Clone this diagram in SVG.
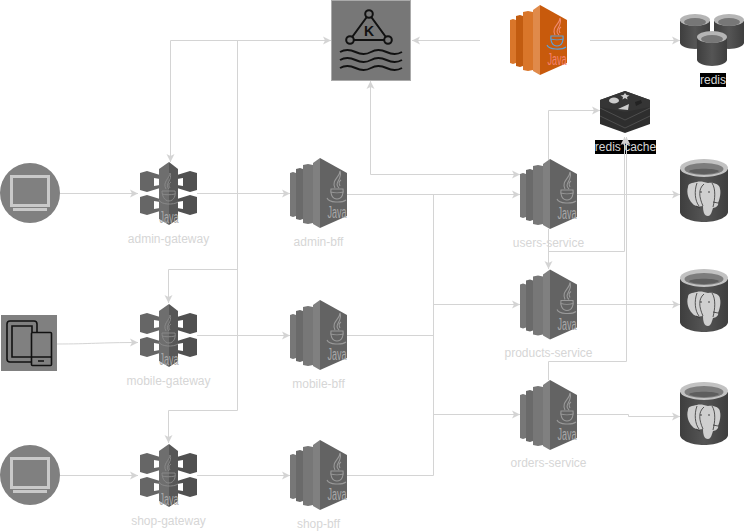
<svg xmlns="http://www.w3.org/2000/svg" width="745" height="532" viewBox="0 0 745 532">
<style>
.c{fill:none;stroke:#d4d4d4;stroke-width:1}
.l{font-family:"Liberation Sans",Arial,sans-serif;font-size:12px;fill:#d6d6d6;text-anchor:middle}
.k{fill:none;stroke:#111;stroke-width:2}
.t{stroke:#111;stroke-width:1.6;fill:none}
.jt{font-family:"Liberation Sans",sans-serif;font-size:16px;text-anchor:middle}
</style>
<defs>
<marker id="a" markerWidth="9" markerHeight="9" refX="8" refY="4.500" orient="auto-start-reverse" markerUnits="userSpaceOnUse"><path d="M0 0.500L8 4.500L0 8.500L2 4.500Z" fill="#d4d4d4"/></marker>
<linearGradient id="pgb" x1="0" x2="1" y1="0" y2="0"><stop offset="0" stop-color="#3e3e3e"/><stop offset=".5" stop-color="#555"/><stop offset="1" stop-color="#3e3e3e"/></linearGradient>
<symbol id="java" overflow="visible">
<path d="M0 15L3 14L6 15V58L3 59L0 58Z" fill="#777"/><path d="M6 11L10 10L13 11V61L10 62L6 61Z" fill="#6a6a6a"/><path d="M13 7L18 6L23 7V65L18 66L13 65Z" fill="#777"/><path d="M23 5L30 0V70L23 66Z" fill="#808080"/><path d="M30 0L57 15V58L30 70Z" fill="#636363"/>
<path d="M49 30c-6 -5 4 -9 1 -17c0 6 -9 9 -5 17M51 22c-3 2 -2 4 -1 6" fill="none" stroke="#9a9a9a" stroke-width="1.100"/>
<path d="M41 31h12c1 4 -1 10 -6 10s-7 -6 -6 -10ZM37 40c2 5 15 5 19 2M41 34c3 1 9 1 12 0" fill="none" stroke="#9a9a9a" stroke-width="1.100"/>
<text class="jt" x="47" y="60" fill="#a8a8a8" textLength="19" lengthAdjust="spacingAndGlyphs">Java</text>
</symbol>
<symbol id="gw" overflow="visible">
<path d="M0 11L7 9L20 13V17L14 16V24L20 23V26L7 30L0 28Z" fill="#666"/>
<path d="M57 11L50 9L37 13V17L43 16V24L37 23V26L50 30L57 28Z" fill="#505050"/>
<path d="M0 35L7 33L20 37V40L14 39V47L20 46V49L7 53L0 51Z" fill="#666"/>
<path d="M57 35L50 33L37 37V40L43 39V47L37 46V49L50 53L57 51Z" fill="#505050"/>
<path d="M19 7L29 0V63L19 57Z" fill="#6e6e6e"/><path d="M29 0L38 7V57L29 63Z" fill="#575757"/>
<path d="M29 27c-5 -5 4 -9 1 -16c0 5 -8 9 -4 16M31 20c-3 2 -2 4 -1 6" fill="none" stroke="#888" stroke-width="1"/>
<path d="M22 29h13c1 4 -1 10 -6 10s-7 -6 -7 -10ZM19 38c2 5 15 5 19 2M22 32c3 1 9 1 13 0" fill="none" stroke="#888" stroke-width="1"/>
<text class="jt" x="29" y="61" fill="#a8a8a8" textLength="19" lengthAdjust="spacingAndGlyphs">Java</text>
</symbol>
<symbol id="pg" overflow="visible">
<path d="M0 10V53C0 58 11 63 24 63S48 58 48 53V10Z" fill="url(#pgb)"/>
<ellipse cx="24" cy="9" rx="24" ry="9" fill="#c2c2c2"/><ellipse cx="24" cy="10" rx="19.500" ry="6" fill="#7d7d7d"/><path d="M9 12c3 -3 27 -3 30 0c-3 4 -27 4 -30 0Z" fill="#5e5e5e"/>
<path d="M17 23C12 24 8 24 8 28C6 34 9 41 12 44C14 47 18 48 23 47C23 52 24 57 28 57C31 57 32 52 33 49C36 49 39 46 38 44C40 40 41 33 40 30C40 25 33 23 28 24C24 23 20 22 17 23Z" fill="#cfcfcf"/>
<path d="M17 24C14 32 15 42 19 47M24 25C18 30 19 38 23 47M32 24C36 30 35 40 33 48M33 43L38 44M16 47L20 49" fill="none" stroke="#333" stroke-width=".8"/>
<circle cx="21" cy="33" r=".8" fill="#333"/><circle cx="29" cy="33" r=".8" fill="#333"/>
</symbol>
<symbol id="cyl" overflow="visible">
<path d="M0 7V29C0 32 8 35 15 35S30 32 30 29V7Z" fill="url(#pgb)"/><ellipse cx="15" cy="6" rx="15" ry="6" fill="#b5b5b5"/><ellipse cx="15" cy="8" rx="11" ry="4" fill="#777"/>
</symbol>
<symbol id="mon" overflow="visible">
<circle cx="30" cy="30" r="30" fill="#808080"/>
<rect x="11.500" y="13.500" width="37" height="29" fill="none" stroke="#c9c9c9" stroke-width="3"/>
<rect x="13" y="45" width="34" height="3" fill="#c9c9c9"/>
</symbol>
</defs>
<g id="kafka"><rect x="331.500" y="0.500" width="79" height="80" fill="#777" stroke="#aaa"/>
<path d="M369 14L350 40H388Z" class="k"/><circle cx="369" cy="14" r="3.800" fill="#777" stroke="#111" stroke-width="2"/><circle cx="350" cy="40" r="3.800" fill="#777" stroke="#111" stroke-width="2"/><circle cx="388" cy="40" r="3.800" fill="#777" stroke="#111" stroke-width="2"/>
<text x="369" y="36" font-family="'Liberation Sans',sans-serif" font-size="14" font-weight="bold" fill="#111" text-anchor="middle">K</text>
<path class="k" d="M340 52q7 -4 15.500 0t15.500 0t15.500 0t15.500 0M340 60q7 -4 15.500 0t15.500 0t15.500 0t15.500 0M340 68q7 -4 15.500 0t15.500 0t15.500 0t15.500 0"/></g>
<g id="producer"><g transform="translate(510 5)"><path d="M0 15L3 14L6 15V58L3 59L0 58Z" fill="#d9762a"/><path d="M6 11L10 10L13 11V61L10 62L6 61Z" fill="#c25c10"/><path d="M13 7L18 6L23 7V65L18 66L13 65Z" fill="#d9762a"/><path d="M23 5L30 0V70L23 66Z" fill="#e08a4a"/><path d="M30 0L57 15V58L30 70Z" fill="#c85a0c"/>
<path d="M49 30c-6 -5 4 -9 1 -17c0 6 -9 9 -5 17M51 22c-3 2 -2 4 -1 6" fill="none" stroke="#f08a70" stroke-width="1.100"/>
<path d="M41 31h12c1 4 -1 10 -6 10s-7 -6 -6 -10ZM37 40c2 5 15 5 19 2M41 34c3 1 9 1 12 0" fill="none" stroke="#5aa0d8" stroke-width="1.200"/>
<text class="jt" x="47" y="60" fill="#f5806e" textLength="19" lengthAdjust="spacingAndGlyphs">Java</text></g></g>
<g id="redis"><use href="#cyl" x="680" y="14"/><use href="#cyl" x="714" y="14"/><use href="#cyl" x="697" y="31"/><rect x="700" y="73" width="26" height="14" fill="#000"/><text class="l" x="713" y="84">redis</text></g>
<g id="redis-cache"><path d="M625 91L650 100V124L625 133L600 124V100Z" fill="#2e2e2e"/><path d="M625 91L650 100V107L625 112L600 107V100Z" fill="#353535"/><path d="M600 108L625 120L650 108M600 116L625 128L650 116" fill="none" stroke="#555" stroke-width=".8"/><ellipse cx="614" cy="100.500" rx="5" ry="3" fill="#ccc"/><path d="M625 93l1.500 2l3 .5l-2.500 1.500l.5 2.500l-2.500 -1.500l-2.500 1.500l.5 -2.500l-2.500 -1.500l3 -.5Z" fill="#ccc"/><path d="M618 109l11 -5l-1 6Z" fill="#ccc"/><path d="M635 102l6 -2l1 3l-6 3Z" fill="#222"/><rect x="595" y="140" width="61" height="14" fill="#000"/><text class="l" x="625.500" y="151">redis cache</text></g>
<g id="client-desktop-1"><use href="#mon" x="0" y="163"/></g>
<g id="client-tablet"><rect x="1" y="315" width="56" height="56" fill="#808080"/><path class="t" d="M37 332V324Q37 321 34 321H10Q7 321 7 324V359Q7 362 10 362H31"/><path class="t" d="M32 332V326H12V357H31"/><rect class="t" x="31.500" y="332.500" width="20" height="33" rx="1"/><path class="t" d="M31.500 357H51.500M38 361H44"/></g>
<g id="client-desktop-2"><use href="#mon" x="0" y="445"/></g>
<g id="admin-gateway"><use href="#gw" x="140" y="162"/><text class="l" x="168.500" y="243">admin-gateway</text></g>
<g id="mobile-gateway"><use href="#gw" x="140" y="304"/><text class="l" x="168.500" y="385">mobile-gateway</text></g>
<g id="shop-gateway"><use href="#gw" x="140" y="444"/><text class="l" x="168.500" y="525">shop-gateway</text></g>
<g id="admin-bff"><use href="#java" x="290" y="158"/><text class="l" x="318.500" y="246">admin-bff</text></g>
<g id="mobile-bff"><use href="#java" x="290" y="300"/><text class="l" x="318.500" y="388">mobile-bff</text></g>
<g id="shop-bff"><use href="#java" x="290" y="440"/><text class="l" x="318.500" y="528">shop-bff</text></g>
<g id="users-service"><use href="#java" x="520" y="159"/><text class="l" x="548.500" y="247">users-service</text></g>
<g id="products-service"><use href="#java" x="520" y="269.500"/><text class="l" x="548.500" y="357">products-service</text></g>
<g id="orders-service"><use href="#java" x="520" y="380"/><text class="l" x="548.500" y="467">orders-service</text></g>
<g id="db-users"><use href="#pg" x="680" y="159"/></g>
<g id="db-products"><use href="#pg" x="680" y="269"/></g>
<g id="db-orders"><use href="#pg" x="680" y="382"/></g>
<g id="connectors">
<path class="c" d="M60 193.500H138" marker-end="url(#a)"/>
<path class="c" d="M197 193.500H290" marker-end="url(#a)"/>
<path class="c" d="M57 344C90 344 100 342.500 138 342.500" marker-end="url(#a)"/>
<path class="c" d="M197 335.500H290" marker-end="url(#a)"/>
<path class="c" d="M60 475.500H138" marker-end="url(#a)"/>
<path class="c" d="M197 475.500H290" marker-end="url(#a)"/>
<path class="c" d="M170.500 162V40.500H331" marker-start="url(#a)" marker-end="url(#a)"/>
<path class="c" d="M237.500 40V410.500H168.500V443" marker-end="url(#a)"/>
<path class="c" d="M237.500 269.500H168.500V303" marker-end="url(#a)"/>
<path class="c" d="M480 40.500H412" marker-end="url(#a)"/>
<path class="c" d="M590 40.500H680" marker-end="url(#a)"/>
<path class="c" d="M370.500 81V174.500H520" marker-start="url(#a)" marker-end="url(#a)"/>
<path class="c" d="M347 194.500H520" marker-end="url(#a)"/>
<path class="c" d="M347 335.500H433.500"/>
<path class="c" d="M347 475.500H433.500V194"/>
<path class="c" d="M433.500 304.500H520" marker-end="url(#a)"/>
<path class="c" d="M433.500 414.500H520" marker-end="url(#a)"/>
<path class="c" d="M577 194.500H680" marker-end="url(#a)"/>
<path class="c" d="M577 304.500H680" marker-end="url(#a)"/>
<path class="c" d="M577 414.500H628.500V416.500H680" marker-end="url(#a)"/>
<path class="c" d="M548.500 160V110.500H600" marker-end="url(#a)"/>
<path class="c" d="M548.500 229V269" marker-end="url(#a)"/>
<path class="c" d="M548.500 251.500H624.500V137" marker-end="url(#a)"/>
<path class="c" d="M548.500 380V361.500H626.500V137" marker-end="url(#a)"/>
</g>
</svg>
